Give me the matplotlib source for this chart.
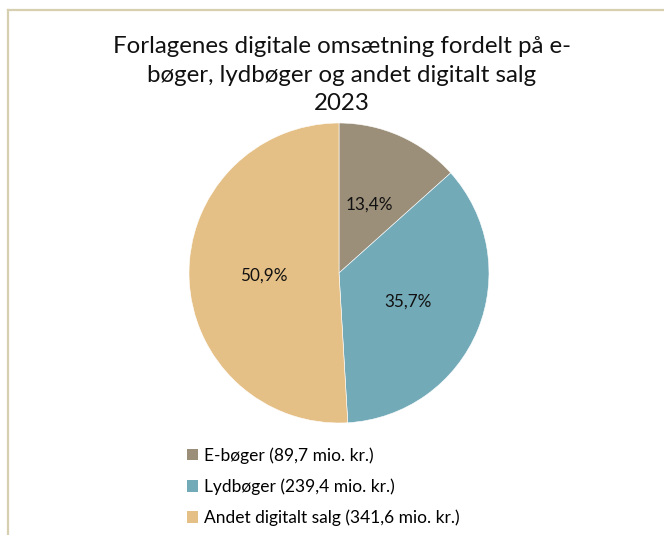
import matplotlib.pyplot as plt
from matplotlib.patches import Patch
from matplotlib.lines import Line2D

plt.rcParams['font.family'] = ['Lato', 'DejaVu Sans']

# data
categories = ["E-bøger (89,7 mio. kr.)", "Lydbøger (239,4 mio. kr.)",
              "Andet digitalt salg (341,6 mio. kr.)"]
values = [89.7, 239.4, 341.6]
colors = ["#9c8f79", "#73aab8", "#e5c086"]
title = "Forlagenes digitale omsætning fordelt på e-\nbøger, lydbøger og andet digitalt salg\n2023"

W, H = 664, 535
fig = plt.figure(figsize=(W / 100, H / 100), dpi=100)

# border lines (left and top) like the chart frame
border = "#d6cfb0"
fig.add_artist(Line2D([8 / W, 8 / W], [0, 1 - 10 / H], color=border, lw=1.6,
                      transform=fig.transFigure))
fig.add_artist(Line2D([8 / W, 1], [1 - 10 / H, 1 - 10 / H], color=border, lw=1.6,
                      transform=fig.transFigure))

fig.text(342 / W, 1 - 75 / H, title, ha="center", va="center",
         fontsize=17.3, linespacing=1.45, color="#111111")

cx, cy, r = 339, 273, 150
ax = fig.add_axes([(cx - r) / W, 1 - (cy + r) / H, 2 * r / W, 2 * r / H])
wedges, texts, autotexts = ax.pie(
    values, colors=colors, startangle=90, counterclock=False,
    autopct=lambda p: f"{p:.1f}%".replace(".", ","), pctdistance=0.5,
    wedgeprops=dict(edgecolor="white", linewidth=0.4),
    textprops=dict(fontsize=12.3, color="#111111"))
ax.set_xlim(-1, 1)
ax.set_ylim(-1, 1)
ax.set_aspect("equal")

handles = [Patch(facecolor=c, edgecolor="none") for c in colors]
fig.legend(handles, categories, loc="upper left",
           bbox_to_anchor=(180 / W, 1 - 440 / H), frameon=False,
           fontsize=12.5, handlelength=0.65, handleheight=0.65,
           handletextpad=0.35, labelspacing=0.85, borderaxespad=0)

fig.savefig("out.png", dpi=100)
